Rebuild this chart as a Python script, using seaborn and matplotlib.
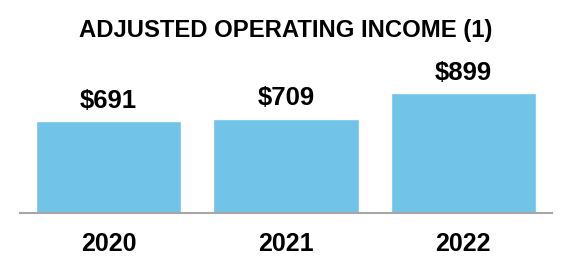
import matplotlib
matplotlib.use("Agg")
import matplotlib.pyplot as plt
import seaborn as sns
import pandas as pd

years = ["2020", "2021", "2022"]
values = [691, 709, 899]
value_labels = ["$691", "$709", "$899"]
title = "ADJUSTED OPERATING INCOME (1)"

sns.set_theme(style="white")
plt.rcParams["font.family"] = ["Liberation Sans", "DejaVu Sans"]

W, H = 572, 280
fig = plt.figure(figsize=(W / 100, H / 100), dpi=100)
ax = fig.add_axes([20 / W, (H - 213) / H, 532 / W, 133 / H])

df = pd.DataFrame({"year": years, "value": values})
sns.barplot(data=df, x="year", y="value", color="#71C4E8", saturation=1,
            width=0.82, ax=ax)

ax.set_xlim(-0.5, 2.5)
ax.set_ylim(0, 1000)
ax.set_xlabel("")
ax.set_ylabel("")
ax.set_yticks([])
for s in ["top", "left", "right"]:
    ax.spines[s].set_visible(False)
ax.spines["bottom"].set_color("#A6A6A6")
ax.spines["bottom"].set_linewidth(1.5)
ax.tick_params(axis="x", length=0, pad=13.5, labelsize=18)
for t in ax.get_xticklabels():
    t.set_fontweight("bold")
    t.set_color("black")

ax.bar_label(ax.containers[0], labels=value_labels, padding=6,
             fontsize=18.5, fontweight="bold", color="black")

fig.text(0.5, 1 - 31 / H, title, ha="center", va="center",
         fontsize=17.2, fontweight="bold", color="black")

fig.savefig("out.png", dpi=100)
